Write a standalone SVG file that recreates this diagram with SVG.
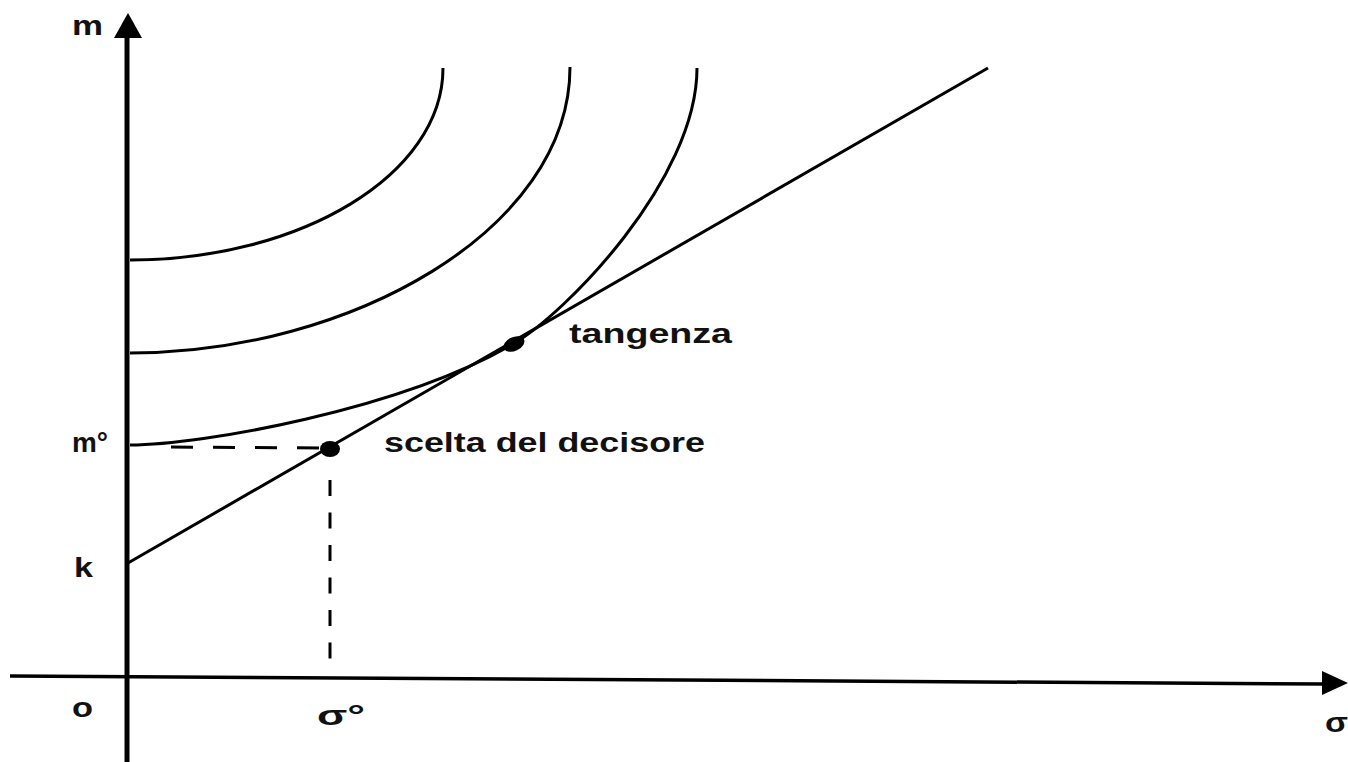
<svg xmlns="http://www.w3.org/2000/svg" width="1348" height="762" viewBox="0 0 1348 762">
<style>
.ln{fill:none;stroke:#000;stroke-width:3;stroke-linecap:butt}
.ax{fill:none;stroke:#000}
.lbl{font-family:"Liberation Sans",Arial,sans-serif;font-weight:bold;font-size:28px;fill:#111}
.dot{fill:#000}
</style>
<rect width="1348" height="762" fill="#fff"/>
<g id="axes">
  <line class="ax" x1="10" y1="676" x2="1326" y2="684" stroke-width="3.5"/>
  <polygon points="1348,683 1322,671 1322,695" fill="#000"/>
  <line class="ax" x1="127" y1="762" x2="127" y2="34" stroke-width="5"/>
  <polygon points="128,13 114,38 142,38" fill="#000"/>
</g>
<g id="connectors">
  <path id="curve1" class="ln" d="M130,260 C300,260 443,175 443,68"/>
  <path id="curve2" class="ln" d="M130,353 C350,353 570,230 570,67"/>
  <path id="curve3" class="ln" d="M130,445 C200,445 400,410 513,344 C565,314 697,180 697,68"/>
  <line id="budget" class="ln" x1="128" y1="563" x2="988" y2="68"/>
  <line id="dash-h" class="ln" x1="171" y1="447" x2="322" y2="448" stroke-dasharray="22 20"/>
  <line id="dash-v" class="ln" x1="330" y1="480" x2="330" y2="660" stroke-width="3.5" stroke-dasharray="16 16.5"/>
</g>
<g id="scelta">
  <ellipse class="dot" cx="330" cy="449" rx="10" ry="8"/>
  <text class="lbl" x="384" y="452" textLength="321" lengthAdjust="spacingAndGlyphs">scelta del decisore</text>
</g>
<g id="tangenza">
  <ellipse class="dot" cx="514" cy="344" rx="11" ry="7" transform="rotate(-25 514 344)"/>
  <text class="lbl" x="569" y="343" textLength="163" lengthAdjust="spacingAndGlyphs">tangenza</text>
</g>
<g id="labels">
  <text class="lbl" x="72" y="35" textLength="31" lengthAdjust="spacingAndGlyphs">m</text>
  <text class="lbl" x="72" y="452" textLength="36" lengthAdjust="spacingAndGlyphs">m°</text>
  <text class="lbl" x="74" y="577" textLength="19" lengthAdjust="spacingAndGlyphs">k</text>
  <text class="lbl" x="72" y="717" textLength="21" lengthAdjust="spacingAndGlyphs">o</text>
  <text class="lbl" x="317" y="725" textLength="48" lengthAdjust="spacingAndGlyphs">σ°</text>
  <text class="lbl" x="1325" y="732" textLength="23" lengthAdjust="spacingAndGlyphs">σ</text>
</g>
</svg>
